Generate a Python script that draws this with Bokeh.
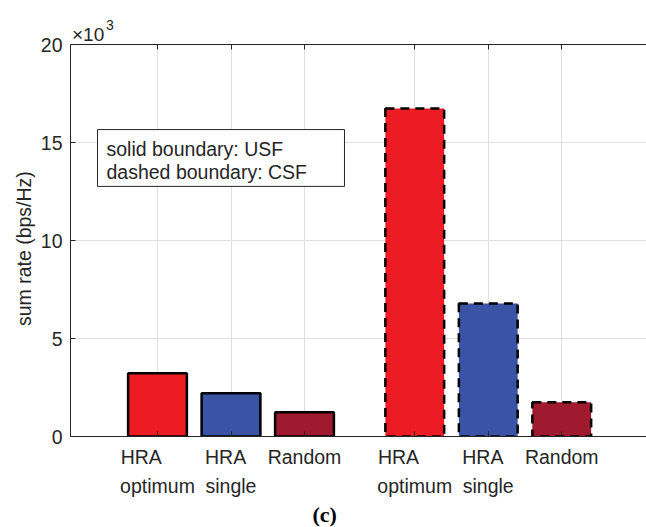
from bokeh.plotting import figure
from bokeh.models import (ColumnDataSource, FixedTicker, LinearAxis, Label,
                          BoxAnnotation, Range1d, Title)
from bokeh.embed import file_html
from bokeh.resources import INLINE

# ---------------- data (sum rate in units of 10^3 bps/Hz) ----------------
categories = ["HRA\noptimum", "HRA\nsingle", "Random"]
usf_positions = [1, 2, 3]
csf_positions = [4.5, 5.5, 6.5]
usf_values = [3.23, 2.21, 1.24]
csf_values = [16.73, 6.79, 1.75]
bar_colors = ["#ED1C24", "#3A53A4", "#A01A2F"]
y_ticks = [0, 5, 10, 15, 20]

TXT = "#262626"
FONT = "Liberation Sans"
FS = "19.5px"
FS_PX = 19.5

p = figure(width=646, height=527, output_backend="svg", toolbar_location=None,
           x_range=Range1d(-0.1837, 7.653), y_range=Range1d(0, 20),
           min_border_left=70, min_border_right=0, min_border_top=44,
           min_border_bottom=91)
p.outline_line_color = None
p.background_fill_color = "white"
p.border_fill_color = "white"

# grid
all_pos = usf_positions + csf_positions
p.xgrid.ticker = FixedTicker(ticks=all_pos)
p.ygrid.ticker = FixedTicker(ticks=y_ticks)
for g in (p.xgrid, p.ygrid):
    g.grid_line_color = "#dfdfdf"
    g.grid_line_width = 1

# bars
usf_src = ColumnDataSource(dict(x=usf_positions, top=usf_values, color=bar_colors))
csf_src = ColumnDataSource(dict(x=csf_positions, top=csf_values, color=bar_colors))
p.vbar(x="x", top="top", width=0.8, source=usf_src, fill_color="color",
       line_color="black", line_width=2.5)
p.vbar(x="x", top="top", width=0.8, source=csf_src, fill_color="color",
       line_color="black", line_width=2.5, line_dash="9 6")

# multi-line category labels: lines left-aligned inside a centred block
cw = {"H": .722, "R": .722, "A": .667, "o": .556, "p": .556, "t": .278, "i": .222,
      "m": .833, "u": .556, "s": .5, "n": .556, "g": .556, "l": .222, "e": .556,
      "a": .556, "d": .556}
def lw(s):
    return sum(cw.get(c, .556) for c in s) * FS_PX
def left_block(label):
    lines = label.split("\n")
    w = max(lw(l) for l in lines)
    out = []
    for l in lines:
        n = int(round((w - lw(l)) / (0.278 * FS_PX)))
        out.append(l + "\u00a0" * n)
    return "\n".join(out)

overrides = {}
for pos, lab in zip(usf_positions + csf_positions, categories + categories):
    overrides[pos] = left_block(lab)

# axes
p.xaxis.ticker = FixedTicker(ticks=all_pos)
p.xaxis.major_label_overrides = overrides
p.xaxis.major_label_text_font_size = FS
p.xaxis.major_label_standoff = 9
p.xaxis.major_label_text_line_height = 1.33
p.yaxis.ticker = FixedTicker(ticks=y_ticks)
for ax in (p.xaxis[0], p.yaxis[0]):
    ax.axis_line_color = TXT
    ax.major_tick_line_color = TXT
    ax.major_tick_in = 5
    ax.major_tick_out = 0
    ax.minor_tick_line_color = None
    ax.major_label_text_color = TXT
    ax.major_label_text_font = FONT
p.yaxis.major_label_text_font_size = FS
p.yaxis.major_label_standoff = 8
p.yaxis.axis_label = "sum rate (bps/Hz)" + "\u00a0" * 3
p.yaxis.axis_label_text_font = FONT
p.yaxis.axis_label_text_font_size = FS
p.yaxis.axis_label_text_font_style = "normal"
p.yaxis.axis_label_text_color = TXT
p.yaxis.axis_label_standoff = 3

top_axis = LinearAxis(ticker=FixedTicker(ticks=all_pos),
                      major_label_overrides={t: "" for t in all_pos},
                      major_tick_in=5, major_tick_out=0, major_label_standoff=0,
                      minor_tick_line_color=None,
                      axis_line_color=TXT, major_tick_line_color=TXT)
p.add_layout(top_axis, "above")

# exponent marker above the y axis (placed in the top panel so it is not clipped)
p.add_layout(Label(x=-0.163, y=20.505, text="\u00d710", text_font=FONT,
                   text_font_size="19px", text_color=TXT,
                   text_baseline="alphabetic"), "above")
p.add_layout(Label(x=0.299, y=21.015, text="3", text_font=FONT,
                   text_font_size="14px", text_color=TXT,
                   text_baseline="alphabetic"), "above")

# annotation box
p.add_layout(BoxAnnotation(left=0.184, right=3.544, bottom=12.76, top=15.66,
                           fill_color="white", fill_alpha=1.0,
                           line_color=TXT, line_width=1, line_alpha=1.0))
p.add_layout(Label(x=0.306, y=14.69, text="solid boundary: USF", text_font=FONT,
                   text_font_size=FS, text_color=TXT, text_baseline="alphabetic"))
p.add_layout(Label(x=0.306, y=13.51, text="dashed boundary: CSF", text_font=FONT,
                   text_font_size=FS, text_color=TXT, text_baseline="alphabetic"))

# caption below the chart
cap = Title(text="(c)", align="left", offset=242, standoff=0,
            text_font="Liberation Serif", text_font_style="bold",
            text_font_size="22px", text_color="black")
p.add_layout(cap, "below")

open("out.html", "w").write(file_html(p, INLINE))
